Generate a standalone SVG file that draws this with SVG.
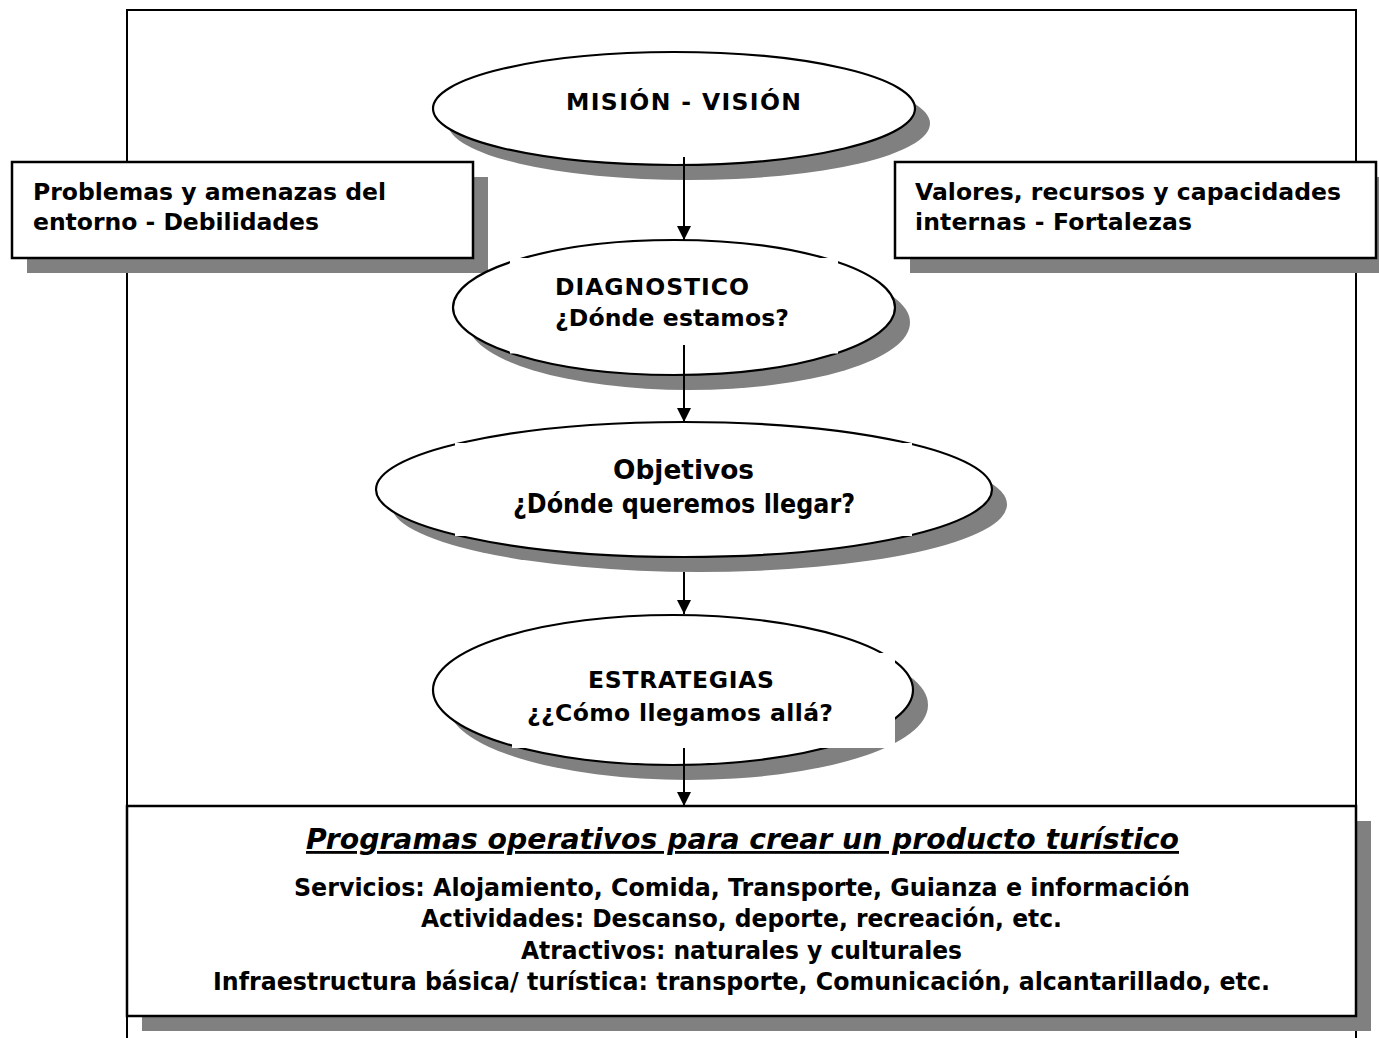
<svg xmlns="http://www.w3.org/2000/svg" width="1379" height="1038" viewBox="0 0 1379 1038">
  <style>
    .frame{fill:none;stroke:#000;stroke-width:2}
    .shadow{fill:#808080;stroke:none}
    .box{fill:#fff;stroke:#000;stroke-width:2.5}
    .ell{fill:#fff;stroke:#000;stroke-width:2.2}
    .mask{fill:#fff;stroke:none}
    .t{font-family:"DejaVu Sans",Verdana,sans-serif;font-weight:bold;font-size:23.5px;fill:#000}
    .tn{font-family:"DejaVu Sans",Verdana,sans-serif;font-weight:bold;font-size:26px;fill:#000}
    .tb{font-family:"DejaVu Sans",Verdana,sans-serif;font-weight:bold;font-size:24px;fill:#000}
    .title{font-family:"DejaVu Sans",Verdana,sans-serif;font-weight:bold;font-style:italic;font-size:28px;text-decoration:underline;fill:#000}
    .conn{stroke:#000;stroke-width:2;fill:none}
  </style>
  <defs>
    <marker id="arrow" markerUnits="userSpaceOnUse" markerWidth="14" markerHeight="14" refX="14" refY="7" orient="auto" viewBox="0 0 14 14">
      <path d="M0,0 L14,7 L0,14 z" fill="#000"/>
    </marker>
  </defs>

  <rect x="0" y="0" width="1379" height="1038" fill="#fff"/>

  <g id="frame">
    <polyline class="frame" points="127,1038 127,10 1356,10 1356,1038"/>
  </g>

  <g id="problemas">
    <rect class="shadow" x="27" y="177" width="461" height="96"/>
    <rect class="box" x="12" y="162" width="461" height="96"/>
    <text class="t" x="33" y="200" textLength="353">Problemas y amenazas del</text>
    <text class="t" x="33" y="230" textLength="286">entorno - Debilidades</text>
  </g>

  <g id="valores">
    <rect class="shadow" x="910" y="177" width="481" height="96"/>
    <rect class="box" x="895" y="162" width="481" height="96"/>
    <text class="t" x="915" y="200" textLength="426">Valores, recursos y capacidades</text>
    <text class="t" x="915" y="230" textLength="277">internas - Fortalezas</text>
  </g>

  <g id="mision">
    <ellipse class="shadow" cx="689" cy="123.5" rx="241" ry="56.5"/>
    <ellipse class="ell" cx="674" cy="108.5" rx="241" ry="56.5"/>
    <text class="t" x="566" y="110" textLength="235">MISIÓN - VISIÓN</text>
  </g>

  <g id="diagnostico">
    <ellipse class="shadow" cx="689" cy="322.5" rx="221" ry="67.5"/>
    <ellipse class="ell" cx="674" cy="307.5" rx="221" ry="67.5"/>
    <rect class="mask" x="510" y="258" width="328" height="95.5"/>
    <text class="t" x="555" y="295" textLength="194">DIAGNOSTICO</text>
    <text class="t" x="555" y="326" textLength="234">¿Dónde estamos?</text>
  </g>

  <g id="objetivos">
    <ellipse class="shadow" cx="699" cy="504.5" rx="308" ry="67.5"/>
    <ellipse class="ell" cx="684" cy="489.5" rx="308" ry="67.5"/>
    <rect class="mask" x="455" y="443" width="457" height="93"/>
    <text class="tn" x="613" y="479" textLength="141" lengthAdjust="spacingAndGlyphs">Objetivos</text>
    <text class="tn" x="513" y="513" textLength="342" lengthAdjust="spacingAndGlyphs">¿Dónde queremos llegar?</text>
  </g>

  <g id="estrategias">
    <ellipse class="shadow" cx="688" cy="705" rx="240" ry="75"/>
    <ellipse class="ell" cx="673" cy="690" rx="240" ry="75"/>
    <rect class="mask" x="512" y="653" width="383" height="95"/>
    <text class="t" x="588" y="688" textLength="186">ESTRATEGIAS</text>
    <text class="t" x="527" y="721" textLength="306">¿¿Cómo llegamos allá?</text>
  </g>

  <g id="programas">
    <rect class="shadow" x="142" y="821" width="1229" height="210"/>
    <rect class="box" x="127" y="806" width="1229" height="210"/>
    <text class="title" x="306" y="849" textLength="873" lengthAdjust="spacingAndGlyphs">Programas operativos para crear un producto turístico</text>
    <text class="tb" x="294" y="896" textLength="896" lengthAdjust="spacingAndGlyphs">Servicios: Alojamiento, Comida, Transporte, Guianza e información</text>
    <text class="tb" x="421" y="927" textLength="641" lengthAdjust="spacingAndGlyphs">Actividades: Descanso, deporte, recreación, etc.</text>
    <text class="tb" x="521" y="959" textLength="441" lengthAdjust="spacingAndGlyphs">Atractivos: naturales y culturales</text>
    <text class="tb" x="213" y="990" textLength="1057" lengthAdjust="spacingAndGlyphs">Infraestructura básica/ turística: transporte, Comunicación, alcantarillado, etc.</text>
  </g>

  <g id="connectors">
    <line class="conn" x1="684" y1="157" x2="684" y2="240" marker-end="url(#arrow)"/>
    <line class="conn" x1="684" y1="345" x2="684" y2="422" marker-end="url(#arrow)"/>
    <line class="conn" x1="684" y1="572" x2="684" y2="614" marker-end="url(#arrow)"/>
    <line class="conn" x1="684" y1="748" x2="684" y2="806" marker-end="url(#arrow)"/>
  </g>
</svg>
